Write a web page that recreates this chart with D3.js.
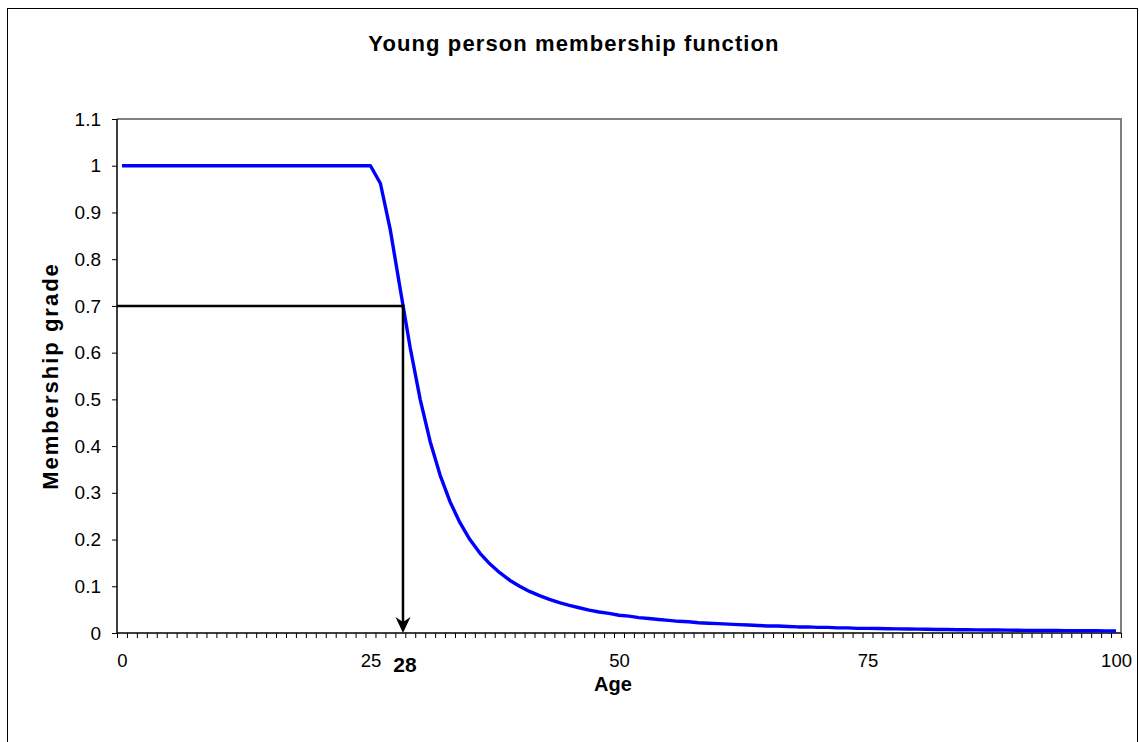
<!DOCTYPE html>
<html>
<head>
<meta charset="utf-8">
<script src="https://cdn.jsdelivr.net/npm/d3@7"></script>
<style>
  html, body { margin: 0; padding: 0; background: #fff; }
  svg { display: block; font-family: "Liberation Sans", Arial, sans-serif; }
</style>
</head>
<body>
<svg id="chart" width="1139" height="742"></svg>
<script>
// ---- data ----
const ages = d3.range(0, 101);
const membership = [
  1, 1, 1, 1, 1, 1, 1, 1, 1, 1,
  1, 1, 1, 1, 1, 1, 1, 1, 1, 1,
  1, 1, 1, 1, 1, 1, 0.962, 0.862, 0.735, 0.610,
  0.500, 0.410, 0.338, 0.281, 0.236, 0.200, 0.171, 0.148, 0.129, 0.113,
  0.100, 0.089, 0.080, 0.072, 0.065, 0.059, 0.054, 0.049, 0.045, 0.042,
  0.038, 0.036, 0.033, 0.031, 0.029, 0.027, 0.025, 0.024, 0.022, 0.021,
  0.020, 0.019, 0.018, 0.017, 0.016, 0.015, 0.015, 0.014, 0.013, 0.013,
  0.012, 0.012, 0.011, 0.011, 0.010, 0.010, 0.0095, 0.0092, 0.0088, 0.0085,
  0.0082, 0.0079, 0.0076, 0.0074, 0.0071, 0.0069, 0.0067, 0.0065, 0.0063, 0.0061,
  0.0059, 0.0057, 0.0055, 0.0054, 0.0052, 0.0051, 0.0049, 0.0048, 0.0047, 0.0045,
  0.0044
];
const xTickLabels = [0, 25, 50, 75, 100];
const yTicks = [0, 0.1, 0.2, 0.3, 0.4, 0.5, 0.6, 0.7, 0.8, 0.9, 1, 1.1];
const cutGrade = 0.7;
const cutAge = 28.27;
const cutLabel = "28";
const titleText = "Young person membership function";
const xTitle = "Age";
const yTitle = "Membership grade";

// ---- layout ----
const svg = d3.select("#chart");
const plot = { left: 117, right: 1121, top: 119, bottom: 633 };

const x = d3.scaleLinear().domain([-0.5, 100.5]).range([plot.left, plot.right]);
const y = d3.scaleLinear().domain([0, 1.1]).range([plot.bottom, plot.top]);

// outer chart border
svg.append("rect")
  .attr("x", 7.5).attr("y", 8.5)
  .attr("width", 1130).attr("height", 760)
  .attr("fill", "#fff").attr("stroke", "#000").attr("stroke-width", 1);

// plot area frame (top & right gray)
svg.append("path")
  .attr("d", `M${plot.left},${plot.top}H${plot.right}V${plot.bottom}`)
  .attr("fill", "none").attr("stroke", "#808080").attr("stroke-width", 2);

// x axis: tick marks at category boundaries
const boundaries = d3.range(0, 102).map(i => i - 0.5);
const xAxisTicks = d3.axisBottom(x).tickValues(boundaries).tickSize(5).tickFormat("");
const gxt = svg.append("g").attr("transform", `translate(0,${plot.bottom})`).call(xAxisTicks);
gxt.select(".domain").remove();
gxt.selectAll(".tick line").attr("stroke", "#000").attr("stroke-width", 1);

// x axis labels
const xAxisLabels = d3.axisBottom(x).tickValues(xTickLabels).tickSize(0).tickPadding(21).tickFormat(d3.format("d"));
const gxl = svg.append("g").attr("transform", `translate(0,${plot.bottom})`).call(xAxisLabels);
gxl.select(".domain").remove();
gxl.selectAll(".tick text")
  .attr("font-family", "Liberation Sans, Arial, sans-serif")
  .attr("font-size", 18.5).attr("fill", "#000");

// y axis
const yAxis = d3.axisLeft(y).tickValues(yTicks).tickSize(5).tickPadding(11)
  .tickFormat(d => d3.format("~g")(+d.toFixed(1)));
const gy = svg.append("g").attr("transform", `translate(${plot.left},0)`).call(yAxis);
gy.select(".domain").remove();
gy.selectAll(".tick line").attr("stroke", "#000").attr("stroke-width", 1);
gy.selectAll(".tick text")
  .attr("font-family", "Liberation Sans, Arial, sans-serif")
  .attr("font-size", 19).attr("fill", "#000");

// axis lines (left & bottom black)
svg.append("path")
  .attr("d", `M${plot.left},${plot.top}V${plot.bottom}H${plot.right}`)
  .attr("fill", "none").attr("stroke", "#000").attr("stroke-width", 1.5);

// membership curve
const line = d3.line().x((d, i) => x(ages[i])).y(d => y(d));
svg.append("path")
  .datum(membership)
  .attr("d", line)
  .attr("fill", "none").attr("stroke", "#0000FF").attr("stroke-width", 3.4)
  .attr("stroke-linejoin", "round");

// annotation: horizontal line at 0.7 and arrow down to age 28
const ax = x(cutAge), ay = y(cutGrade);
svg.append("line")
  .attr("x1", plot.left).attr("x2", ax + 1.25)
  .attr("y1", ay).attr("y2", ay)
  .attr("stroke", "#000").attr("stroke-width", 2.5);
svg.append("line")
  .attr("x1", ax).attr("x2", ax)
  .attr("y1", ay - 1.25).attr("y2", y(0) - 10)
  .attr("stroke", "#000").attr("stroke-width", 2.5);
const tipY = y(0);
svg.append("path")
  .attr("d", `M${ax},${tipY} L${ax - 7.5},${tipY - 16} L${ax},${tipY - 11} L${ax + 7.5},${tipY - 16} Z`)
  .attr("fill", "#000");

svg.append("text")
  .attr("x", ax + 2).attr("y", 672)
  .attr("text-anchor", "middle")
  .attr("font-size", 21).attr("font-weight", "bold")
  .text(cutLabel);

// titles
svg.append("text")
  .attr("x", 574).attr("y", 51)
  .attr("text-anchor", "middle")
  .attr("font-size", 22).attr("font-weight", "bold")
  .attr("letter-spacing", 1.1)
  .text(titleText);

svg.append("text")
  .attr("x", 613).attr("y", 691)
  .attr("text-anchor", "middle")
  .attr("font-size", 20).attr("font-weight", "bold")
  .text(xTitle);

svg.append("text")
  .attr("transform", `translate(58,376) rotate(-90)`)
  .attr("text-anchor", "middle")
  .attr("font-size", 22).attr("font-weight", "bold")
  .attr("letter-spacing", 2)
  .text(yTitle);
</script>
</body>
</html>
